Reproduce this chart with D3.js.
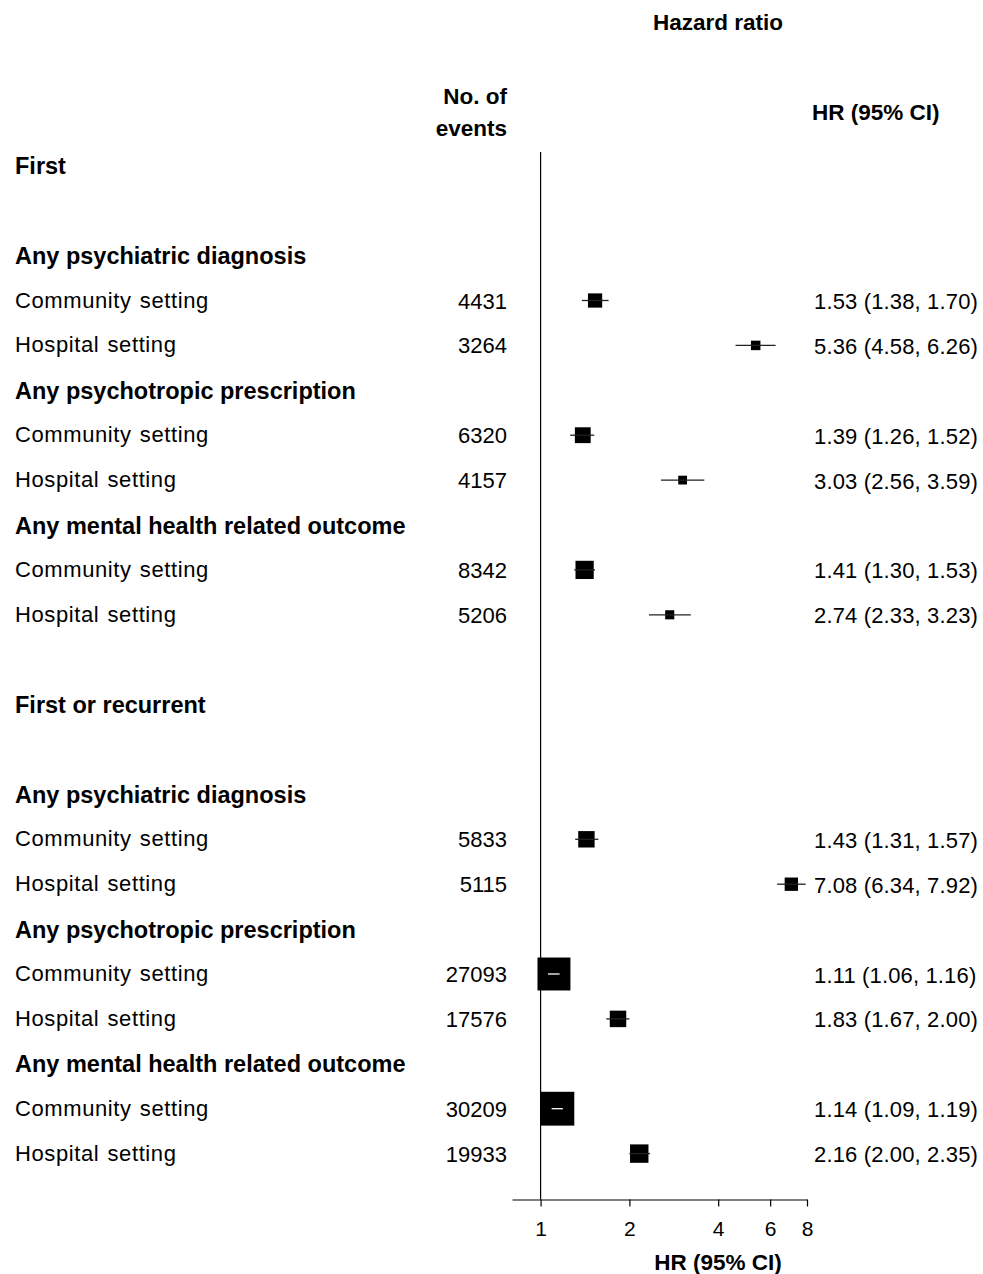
<!DOCTYPE html>
<html>
<head>
<meta charset="utf-8">
<script src="https://cdn.jsdelivr.net/npm/d3@7"></script>
<style>
  html, body { margin: 0; padding: 0; background: #fff; }
  svg { display: block; font-family: "Liberation Sans", Arial, Helvetica, sans-serif; }
</style>
</head>
<body>
<svg id="chart" width="983" height="1274"></svg>
<script>
// ---------------- data ----------------
const sections = ["First", "First or recurrent"];
const outcomes = ["Any psychiatric diagnosis", "Any psychotropic prescription", "Any mental health related outcome"];
const settings = ["Community setting", "Hospital setting"];
const events = [4431, 3264, 6320, 4157, 8342, 5206, 5833, 5115, 27093, 17576, 30209, 19933];
const hr     = [1.53, 5.36, 1.39, 3.03, 1.41, 2.74, 1.43, 7.08, 1.11, 1.83, 1.14, 2.16];
const lower  = [1.38, 4.58, 1.26, 2.56, 1.30, 2.33, 1.31, 6.34, 1.06, 1.67, 1.09, 2.00];
const upper  = [1.70, 6.26, 1.52, 3.59, 1.53, 3.23, 1.57, 7.92, 1.16, 2.00, 1.19, 2.35];
const xTicks = [1, 2, 4, 6, 8];
const headerEvents = ["No. of", "events"];
const headerHR = "HR (95% CI)";
const topTitle = "Hazard ratio";
const axisTitle = "HR (95% CI)";

// ---------------- build rows ----------------
const rows = [];
let k = 0;
sections.forEach((s, si) => {
  rows.push({type: "section", label: s});
  rows.push({type: "blank"});
  outcomes.forEach(o => {
    rows.push({type: "outcome", label: o});
    settings.forEach(st => {
      rows.push({type: "est", label: st, n: events[k], hr: hr[k], lo: lower[k], hi: upper[k]});
      k++;
    });
  });
  if (si < sections.length - 1) rows.push({type: "blank"});
});
rows.forEach((r, i) => r.i = i);

// ---------------- scales ----------------
const svg = d3.select("#chart");
const y = d3.scaleLinear().domain([0, rows.length - 1]).range([165.8, 1153.6]);
const x = d3.scaleLog().domain([0.8, 8]).range([512, 807]);
// box size proportional to precision (1 / log CI width)
const size = d3.scaleLinear().domain([0, 10]).range([0, 29.7]);

const labelX = 15, eventsX = 507, hrTextX = 814;
const axisY = 1199.5;

// ---------------- headers ----------------
svg.append("text").attr("x", 718).attr("y", 30).attr("text-anchor", "middle")
  .attr("font-weight", "bold").attr("font-size", 22.5).text(topTitle);
svg.append("text").attr("x", eventsX).attr("y", 104).attr("text-anchor", "end")
  .attr("font-weight", "bold").attr("font-size", 22.5).text(headerEvents[0]);
svg.append("text").attr("x", eventsX).attr("y", 136).attr("text-anchor", "end")
  .attr("font-weight", "bold").attr("font-size", 22.5).text(headerEvents[1]);
svg.append("text").attr("x", 812).attr("y", 120)
  .attr("font-weight", "bold").attr("font-size", 22.5).text(headerHR);

// ---------------- reference line ----------------
svg.append("line").attr("x1", x(1)).attr("x2", x(1)).attr("y1", 152).attr("y2", axisY)
  .attr("stroke", "#000").attr("stroke-width", 1.2);

// ---------------- row labels ----------------
const textRows = rows.filter(r => r.type !== "blank");
svg.selectAll("text.rowlab").data(textRows).join("text")
  .attr("class", "rowlab")
  .attr("x", labelX)
  .attr("y", d => y(d.i) + (d.type === "est" ? 7 : 8.5))
  .attr("font-size", d => d.type === "est" ? 22 : 23.5)
  .attr("font-weight", d => d.type === "est" ? "normal" : "bold")
  .attr("letter-spacing", d => d.type === "est" ? 0.6 : 0)
  .attr("word-spacing", d => d.type === "est" ? 1.5 : 0)
  .text(d => d.label);

const est = rows.filter(r => r.type === "est");
svg.selectAll("text.ev").data(est).join("text")
  .attr("class", "ev").attr("x", eventsX).attr("y", d => y(d.i) + 8)
  .attr("text-anchor", "end").attr("font-size", 22).text(d => d.n);

const f2 = d3.format(".2f");
svg.selectAll("text.hrt").data(est).join("text")
  .attr("class", "hrt").attr("x", hrTextX).attr("y", d => y(d.i) + 8.5)
  .attr("font-size", 22).attr("letter-spacing", 0.15)
  .text(d => `${f2(d.hr)} (${f2(d.lo)}, ${f2(d.hi)})`);

// ---------------- markers ----------------
const g = svg.append("g");
est.forEach(d => {
  const s = size(1 / Math.log(d.hi / d.lo));
  const cx = x(d.hr), cy = y(d.i);
  const inside = x(d.lo) >= cx - s / 2 && x(d.hi) <= cx + s / 2;
  g.append("rect").attr("x", cx - s / 2).attr("y", cy - s / 2)
    .attr("width", s).attr("height", s).attr("fill", "#000");
  g.append("line").attr("x1", x(d.lo)).attr("x2", x(d.hi)).attr("y1", cy).attr("y2", cy)
    .attr("stroke", inside ? "#fff" : "#222").attr("stroke-width", 1.3);
});

// ---------------- axis ----------------
const axis = d3.axisBottom(x).tickValues(xTicks).tickFormat(d3.format("d")).tickSize(7).tickSizeOuter(0);
const ag = svg.append("g").attr("transform", `translate(0,${axisY})`).call(axis);
ag.select(".domain").attr("stroke", "#000").attr("stroke-width", 1.2);
ag.selectAll(".tick line").attr("stroke", "#000").attr("stroke-width", 1.2);
ag.selectAll(".tick text").attr("font-size", 21).attr("font-family", "Liberation Sans, Arial, sans-serif")
  .attr("fill", "#000").attr("dy", 0).attr("y", 36);

svg.append("text").attr("x", 718).attr("y", 1270).attr("text-anchor", "middle")
  .attr("font-weight", "bold").attr("font-size", 22.5).text(axisTitle);
</script>
</body>
</html>
